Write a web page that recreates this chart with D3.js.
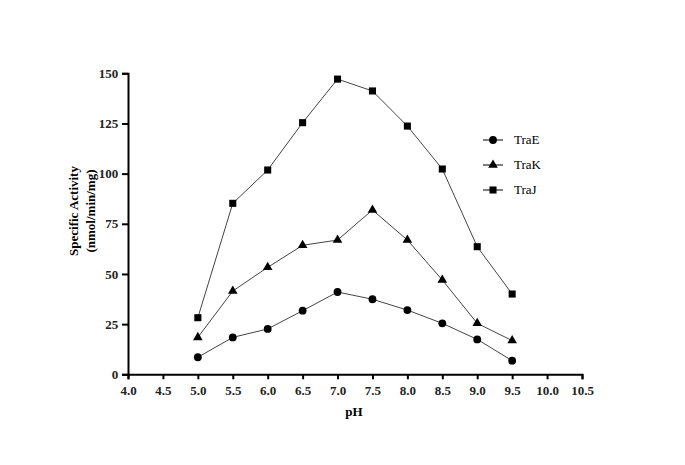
<!DOCTYPE html>
<html><head><meta charset="utf-8">
<script src="https://cdn.jsdelivr.net/npm/d3@7"></script>
<style>body{margin:0;background:#fff} svg text{font-family:"Liberation Serif","Times New Roman",serif}</style>
</head><body>
<svg id="c" width="685" height="465"></svg>
<script>
const pH = [5.0,5.5,6.0,6.5,7.0,7.5,8.0,8.5,9.0,9.5];
const traE = [8.5,18.4,22.6,31.7,41,37.4,32,25.4,17.4,6.8];
const traK = [18.4,41.5,53.3,64.3,66.9,81.9,66.9,47,25.4,16.8];
const traJ = [28.2,85.2,101.8,125.4,147.1,141.2,123.7,102.3,63.6,40];
const xTicks = [4.0,4.5,5.0,5.5,6.0,6.5,7.0,7.5,8.0,8.5,9.0,9.5,10.0,10.5];
const yTicks = [0,25,50,75,100,125,150];
const seriesNames = ["TraE","TraK","TraJ"];

const svg = d3.select("#c");
const x = d3.scaleLinear().domain([4.0,10.5]).range([128,582]);
const y = d3.scaleLinear().domain([0,150]).range([374.3,73.3]);
const font = '"Liberation Serif","Times New Roman",serif';

const xa = svg.append("g").attr("transform","translate(0,374.3)")
  .call(d3.axisBottom(x).tickValues(xTicks).tickFormat(d3.format(".1f")).tickSizeOuter(0).tickSize(5));
const ya = svg.append("g").attr("transform","translate(128,0)")
  .call(d3.axisLeft(y).tickValues(yTicks).tickSizeOuter(0).tickSize(6));
[xa,ya].forEach(a=>{
  a.attr("font-family",null);
  a.select(".domain").attr("stroke","#000").attr("stroke-width",2);
  a.selectAll(".tick line").attr("stroke","#000").attr("stroke-width",2);
  a.selectAll("text").style("font-family",font).style("font-weight","bold").style("font-size","13px").attr("fill","#222");
});
xa.selectAll("text").attr("dy","0.95em");
ya.selectAll("text").attr("dx","-0.05em");

svg.append("text").attr("x",354).attr("y",416).attr("text-anchor","middle")
  .style("font-family",font).style("font-weight","bold").style("font-size","13px").text("pH");
const yl = svg.append("text").attr("transform","translate(78,211) rotate(-90)")
  .attr("text-anchor","middle").style("font-family",font).style("font-weight","bold").style("font-size","13px");
yl.append("tspan").attr("x",0).attr("dy",0).text("Specific Activity");
yl.append("tspan").attr("x",0).attr("dy","1.3em").text("(nmol/min/mg)");

const data = [traE,traK,traJ];
const shapes = [d3.symbolCircle, d3.symbolTriangle, d3.symbolSquare];
const sizes = [48,40,50];
const line = d3.line().x((d,i)=>x(pH[i])).y(d=>y(d));
data.forEach((s,k)=>{
  svg.append("path").attr("d",line(s)).attr("fill","none").attr("stroke","#444").attr("stroke-width",1);
  svg.selectAll(null).data(s).enter().append("path")
    .attr("transform",(d,i)=>`translate(${x(pH[i])},${y(d)})`)
    .attr("d",d3.symbol().type(shapes[k]).size(sizes[k])).attr("fill","#000");
});

const lg = svg.append("g");
seriesNames.forEach((n,k)=>{
  const yy = 140 + k*25;
  lg.append("line").attr("x1",483).attr("x2",503).attr("y1",yy).attr("y2",yy).attr("stroke","#000").attr("stroke-width",1);
  lg.append("path").attr("transform",`translate(493,${yy})`).attr("d",d3.symbol().type(shapes[k]).size(sizes[k])).attr("fill","#000");
  lg.append("text").attr("x",514).attr("y",yy+4).style("font-family",font).style("font-size","13px").text(n);
});
</script>
</body></html>
